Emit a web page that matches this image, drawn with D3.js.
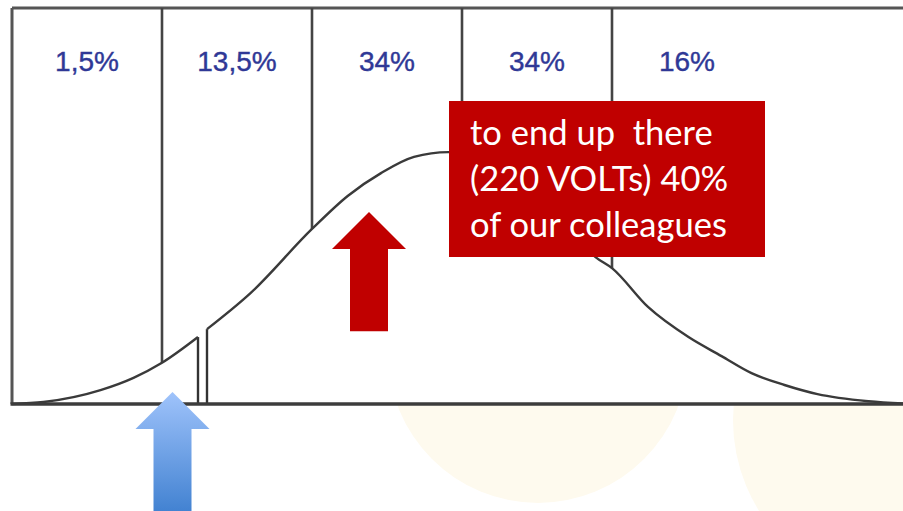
<!DOCTYPE html>
<html>
<head>
<meta charset="utf-8">
<script src="https://cdn.jsdelivr.net/npm/d3@7"></script>
<style>
  body { margin: 0; background: #fff; overflow: hidden; }
  svg { display: block; }
</style>
</head>
<body>
<main></main>
<script>
// adopter groups: label + where the group starts (in standard deviations)
var groupLabels = ['1,5%', '13,5%', '34%', '34%', '16%']
var groupStarts = [-3, -2, -1, 0, 1]
var boundaries = [-2, -1, 0, 1]

// bell curve (x in sd, y in % of frame height)
var earlyU = [-3, -2.79, -2.41, -2.19, -2.0, -1.76]
var earlyV = [0, 0.5, 3.5, 6.6, 10.4, 16.9]
var mainU = [-1.70, -1.41, -1.0, -0.76, -0.54, -0.32, -0.09, 0, 0.26, 0.53, 0.73, 0.89, 1.0, 1.24, 1.51, 1.73, 1.93, 2.15, 2.37, 2.71, 3.0]
var mainV = [18.9, 28.0, 44.2, 52.6, 58.3, 62.4, 63.6, 63.6, 60.6, 51.8, 43.4, 37.1, 34.3, 24.5, 16.9, 12.1, 7.8, 4.8, 2.5, 0.7, 0]

// the chasm: curve stops at the first value, starts again at the second
var chasm = [-1.76, -1.70]

var noteLines = ['to end up  there', '(220 VOLTs) 40%', 'of our colleagues']

var width = 903,
    height = 511

var x = d3.scaleLinear().domain([-3, 3]).range([12, 912])
var y = d3.scaleLinear().domain([0, 100]).range([404, 8])

var svg = d3.select('main').append('svg')
    .attr('width', width)
    .attr('height', height)

var defs = svg.append('defs')
var grad = defs.append('linearGradient')
    .attr('id', 'blueArrow')
    .attr('x1', 0).attr('y1', 0).attr('x2', 0).attr('y2', 1)
grad.append('stop').attr('offset', '0%').attr('stop-color', '#9fc3fb')
grad.append('stop').attr('offset', '100%').attr('stop-color', '#3b7dce')

// faint background circles of the slide
svg.append('circle').attr('cx', 538).attr('cy', 353).attr('r', 150).attr('fill', '#fefaee')
svg.append('circle').attr('cx', 905).attr('cy', 420).attr('r', 172).attr('fill', '#fefaee')

// white chart area
svg.append('rect')
    .attr('x', x(-3)).attr('y', y(100))
    .attr('width', x(3) - x(-3)).attr('height', y(0) - y(100))
    .attr('fill', '#fff')

var early = earlyU.map((u, i) => [u, earlyV[i]])
var main = mainU.map((u, i) => [u, mainV[i]])
var all = early.concat(main)
var valueAt = u => all.find(d => Math.abs(d[0] - u) < 1e-9)[1]

var frame = '#555'

// frame
svg.append('line')
    .attr('x1', x(-3)).attr('x2', x(3))
    .attr('y1', y(100)).attr('y2', y(100))
    .attr('stroke', frame).attr('stroke-width', 3)
svg.append('line')
    .attr('x1', x(-3)).attr('x2', x(-3))
    .attr('y1', y(100)).attr('y2', y(0))
    .attr('stroke', frame).attr('stroke-width', 3)

// group boundaries, from the top down to the curve
svg.selectAll('.bound')
    .data(boundaries)
    .enter()
    .append('line')
    .attr('class', 'bound')
    .attr('x1', d => x(d)).attr('x2', d => x(d))
    .attr('y1', y(100)).attr('y2', d => y(valueAt(d)))
    .attr('stroke', '#444').attr('stroke-width', 2.6)

// chasm edges
svg.selectAll('.chasm')
    .data(chasm)
    .enter()
    .append('line')
    .attr('class', 'chasm')
    .attr('x1', d => x(d)).attr('x2', d => x(d))
    .attr('y1', y(0)).attr('y2', d => y(valueAt(d)))
    .attr('stroke', '#333').attr('stroke-width', 2.4)

var valueline = d3.line()
    .x(d => x(d[0]))
    .y(d => y(d[1]))
    .curve(d3.curveMonotoneX)

svg.selectAll('.curve')
    .data([early, main])
    .enter()
    .append('path')
    .attr('class', 'curve')
    .attr('d', valueline)
    .attr('fill', 'none')
    .attr('stroke', '#3a3a3a')
    .attr('stroke-width', 2.4)

// baseline
svg.append('line')
    .attr('x1', x(-3) - 1.5).attr('x2', x(3))
    .attr('y1', y(0)).attr('y2', y(0))
    .attr('stroke', '#3c3c3c').attr('stroke-width', 3.5)

// percentages
svg.selectAll('.pct')
    .data(groupLabels)
    .enter()
    .append('text')
    .attr('class', 'pct')
    .attr('x', (d, i) => x(groupStarts[i] + 0.5))
    .attr('y', 71)
    .attr('text-anchor', 'middle')
    .attr('font-family', 'Liberation Sans, Arial, sans-serif')
    .attr('font-size', 28)
    .attr('fill', '#2f3896')
    .attr('stroke', '#2f3896')
    .attr('stroke-width', 0.4)
    .text(d => d)

// arrows
function arrow (cx, tip, bottom, fill) {
    var hw = 37, hh = 37, sw = 19
    var pts = [[cx, tip], [cx + hw, tip + hh], [cx + sw, tip + hh], [cx + sw, bottom],
               [cx - sw, bottom], [cx - sw, tip + hh], [cx - hw, tip + hh]]
    svg.append('polygon')
        .attr('points', pts.map(p => p.join(',')).join(' '))
        .attr('fill', fill)
}
arrow(x(-0.62), y(48.5), y(18.4), '#c00000')
arrow(x(-1.93), y(3), height + 10, 'url(#blueArrow)')

// red note box
svg.append('rect')
    .attr('x', 449).attr('y', 101)
    .attr('width', 316).attr('height', 156)
    .attr('fill', '#c00000')

var note = svg.selectAll('.note')
    .data(noteLines)
    .enter()
    .append('text')
    .attr('class', 'note')
    .attr('x', 470)
    .attr('y', (d, i) => 145 + i * 46)
    .attr('font-family', 'Lato, Open Sans, sans-serif')
    .attr('font-size', 35)
    .attr('fill', '#fff')
    .style('white-space', 'pre')
    .text(d => d)

// fit the note font to the width of the last line
var w = note.nodes()[2].getComputedTextLength()
note.attr('font-size', 35 * 257 / w)
</script>
</body>
</html>
